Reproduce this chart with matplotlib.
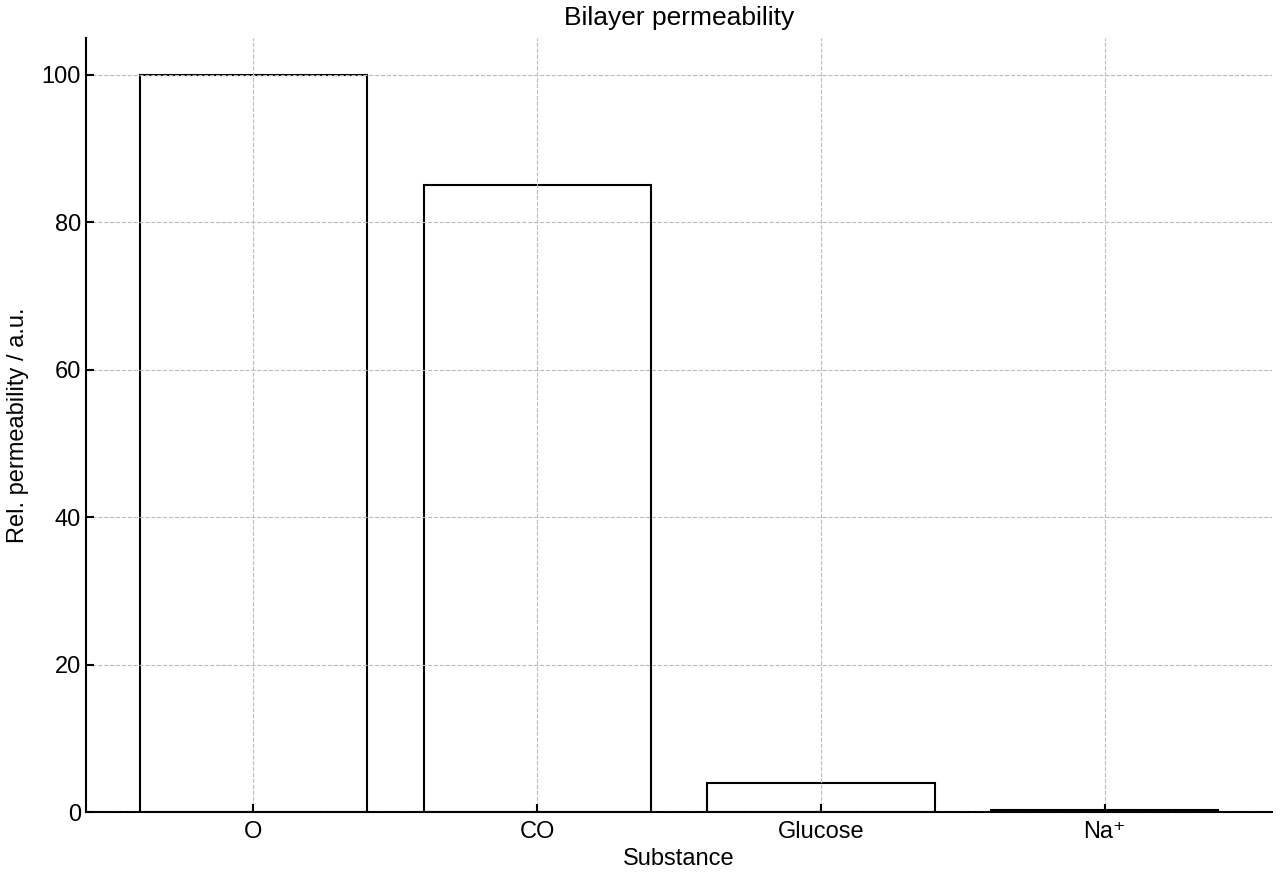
import matplotlib
matplotlib.use("Agg")
import matplotlib.pyplot as plt

plt.rcParams['font.family'] = ['Liberation Sans', 'DejaVu Sans']
plt.rcParams['font.size'] = 17

substances = ['O', 'CO', 'Glucose', 'Na⁺']
permeability = [100, 85, 4, 0.3]

fig, ax = plt.subplots(figsize=(12.8, 8.8), dpi=100)
ax.bar(substances, permeability, width=0.8, facecolor='white',
       edgecolor='black', linewidth=1.5)

# grid drawn over the bars, as in the original
ax.set_axisbelow(False)
ax.grid(True, linestyle='--', color='#bbbbbb', linewidth=0.8)
ax.set_ylim(0, 105)
ax.set_yticks([0, 20, 40, 60, 80, 100])

ax.spines['top'].set_visible(False)
ax.spines['right'].set_visible(False)
ax.spines['left'].set_linewidth(1.5)
ax.spines['bottom'].set_linewidth(1.5)
ax.tick_params(direction='in', length=6, width=1.5, labelsize=17)
ax.tick_params(axis='x', pad=6)

ax.set_title('Bilayer permeability', fontsize=19, pad=9)
ax.set_xlabel('Substance', fontsize=17, labelpad=4)
ax.set_ylabel('Rel. permeability / a.u.', fontsize=17, labelpad=9)

fig.subplots_adjust(left=0.067, right=0.994, top=0.957, bottom=0.077)
fig.savefig('out.png', dpi=100)
